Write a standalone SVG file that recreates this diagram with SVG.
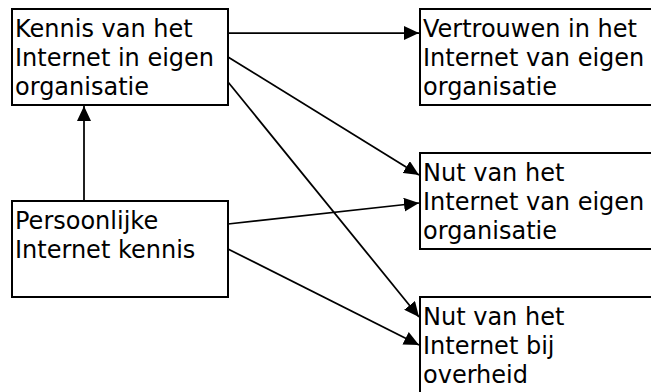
<svg xmlns="http://www.w3.org/2000/svg" width="651" height="392" viewBox="0 0 651 392">
<style>
.box{fill:#fff;stroke:#000;stroke-width:2}
.t{font-family:"DejaVu Sans",Verdana,sans-serif;font-size:24px;fill:#000}
.c{stroke:#000;stroke-width:1.75;fill:none;marker-end:url(#ah)}
</style>
<defs>
<marker id="ah" markerUnits="userSpaceOnUse" markerWidth="16" markerHeight="14" viewBox="0 0 16 14" refX="15" refY="7" orient="auto">
<path d="M0,0 L15,7 L0,14 Z" fill="#000"/>
</marker>
</defs>
<rect width="651" height="392" fill="#fff"/>
<g id="connectors">
<line class="c" x1="228" y1="33" x2="419" y2="33"/>
<line class="c" x1="228" y1="57" x2="419" y2="175"/>
<line class="c" x1="228" y1="82" x2="419" y2="317"/>
<line class="c" x1="228" y1="224" x2="419" y2="203"/>
<line class="c" x1="228" y1="249" x2="419" y2="345"/>
<line class="c" x1="84" y1="201" x2="84" y2="106"/>
</g>
<g id="kennis">
<rect class="box" x="12" y="9" width="216" height="96"/>
<text class="t"><tspan x="15" y="37">Kennis van het</tspan><tspan x="15" y="66">Internet in eigen</tspan><tspan x="15" y="95">organisatie</tspan></text>
</g>
<g id="persoonlijk">
<rect class="box" x="12" y="201" width="216" height="96"/>
<text class="t"><tspan x="15" y="229">Persoonlijke</tspan><tspan x="15" y="258">Internet kennis</tspan></text>
</g>
<g id="vertrouwen">
<rect class="box" x="420" y="9" width="250" height="96"/>
<text class="t"><tspan x="423" y="37">Vertrouwen in het</tspan><tspan x="423" y="66">Internet van eigen</tspan><tspan x="423" y="95">organisatie</tspan></text>
</g>
<g id="nut-eigen">
<rect class="box" x="420" y="153" width="250" height="96"/>
<text class="t"><tspan x="423" y="181">Nut van het</tspan><tspan x="423" y="210">Internet van eigen</tspan><tspan x="423" y="239">organisatie</tspan></text>
</g>
<g id="nut-overheid">
<rect class="box" x="420" y="297" width="250" height="110"/>
<text class="t"><tspan x="423" y="325">Nut van het</tspan><tspan x="423" y="354">Internet bij</tspan><tspan x="423" y="383">overheid</tspan></text>
</g>
</svg>
